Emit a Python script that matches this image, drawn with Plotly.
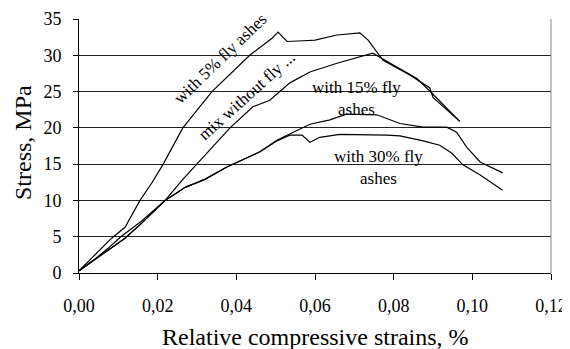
import plotly.graph_objects as go

# with 5% fly ashes
s5_x = [0.0, 0.004, 0.0083, 0.0117, 0.0155, 0.0185, 0.0213, 0.0264, 0.0338, 0.0434, 0.0490, 0.0506,
        0.0529, 0.0570, 0.0600, 0.0656, 0.0714, 0.0735, 0.0758, 0.0773, 0.0841, 0.0892, 0.0900, 0.0968]
s5_y = [0.3, 2.5, 4.8, 6.3, 10.0, 12.4, 14.9, 20.0, 25.0, 30.0, 32.3, 33.2,
        31.9, 32.0, 32.1, 32.8, 33.1, 32.1, 30.3, 29.3, 27.3, 25.5, 24.2, 20.9]

# mix without fly ashes
s0_x = [0.0, 0.004, 0.0074, 0.0104, 0.016, 0.0219, 0.0264, 0.0320, 0.0384, 0.0442, 0.0485, 0.0536,
        0.0587, 0.0656, 0.0707, 0.0747, 0.0808, 0.0859, 0.0897, 0.0968]
s0_y = [0.3, 1.9, 3.4, 4.9, 7.2, 10.0, 12.9, 16.2, 20.0, 22.9, 23.8, 26.2,
        27.7, 28.9, 29.7, 30.3, 28.4, 26.8, 24.8, 20.9]

# with 15% fly ashes
s15_x = [0.0, 0.004, 0.0074, 0.0117, 0.016, 0.0219, 0.027, 0.0320, 0.0376, 0.0435, 0.0460, 0.0503,
         0.0544, 0.0587, 0.0638, 0.0680, 0.0757, 0.0816, 0.0875, 0.0935, 0.0960, 0.0986, 0.1020, 0.1052, 0.1077]
s15_y = [0.3, 1.8, 3.2, 4.8, 6.9, 10.0, 11.8, 12.9, 14.6, 16.0, 16.7, 18.3,
         19.4, 20.5, 21.1, 21.9, 21.8, 20.6, 20.1, 20.1, 19.4, 17.3, 15.3, 14.5, 13.8]

# with 30% fly ashes
s30_x = [0.0, 0.004, 0.0074, 0.0117, 0.016, 0.0219, 0.027, 0.0320, 0.0376, 0.0435, 0.0460, 0.0503,
         0.0536, 0.0567, 0.0587, 0.0612, 0.0663, 0.0783, 0.0816, 0.0875, 0.0917, 0.0948, 0.0976, 0.1020, 0.1077]
s30_y = [0.3, 1.8, 3.2, 4.8, 6.9, 10.0, 11.8, 12.9, 14.6, 16.0, 16.7, 18.2,
         19.0, 19.0, 18.0, 18.7, 19.1, 19.0, 18.9, 18.2, 17.6, 16.5, 14.9, 13.5, 11.4]

x_ticks = [0.0, 0.02, 0.04, 0.06, 0.08, 0.10, 0.12]
x_tick_labels = ["0,00", "0,02", "0,04", "0,06", "0,08", "0,10", "0,12"]
y_ticks = [0, 5, 10, 15, 20, 25, 30, 35]

FONT = "Liberation Serif"

fig = go.Figure()
for xs, ys in [(s5_x, s5_y), (s0_x, s0_y), (s15_x, s15_y), (s30_x, s30_y)]:
    fig.add_trace(go.Scatter(x=xs, y=ys, mode="lines",
                             line=dict(color="black", width=1.2), showlegend=False))

ann_font = dict(family=FONT, size=17, color="black")
common = dict(showarrow=False, xanchor="center", yanchor="middle")
fig.add_annotation(x=0.0360, y=29.5, text="with 5% fly ashes", textangle=-44,
                   font=ann_font, **common)
fig.add_annotation(x=0.0427, y=24.5, text="mix without fly ...", textangle=-42,
                   font=ann_font, **common)
fig.add_annotation(x=0.0706, y=24.0, text="with 15% fly<br>ashes",
                   font=ann_font, **common)
fig.add_annotation(x=0.0762, y=14.5, text="with 30% fly<br>ashes",
                   font=ann_font, **common)

# axis titles
fig.add_annotation(xref="paper", yref="paper", x=-0.1186, y=0.512, text="Stress, MPa",
                   textangle=-90, font=dict(family=FONT, size=24), **common)
fig.add_annotation(xref="paper", yref="paper", x=0.5, y=-0.252,
                   text="Relative compressive strains, %",
                   font=dict(family=FONT, size=24), **common)

# the page body has an 8px margin, so the figure is shrunk by that much
fig.update_layout(
    width=562, height=341,
    margin=dict(l=71, r=19, t=11, b=76),
    paper_bgcolor="white", plot_bgcolor="white",
    font=dict(family=FONT, size=18, color="black"),
    xaxis=dict(range=[0, 0.12], tickvals=x_ticks, ticktext=x_tick_labels,
               showgrid=False, zeroline=False, showline=True, linecolor="black",
               linewidth=1, ticks="outside", ticklen=6, tickcolor="black",
               automargin=False, ticklabelstandoff=10, ticklabeloverflow="allow"),
    yaxis=dict(range=[0, 35], tickvals=y_ticks, showgrid=True, gridcolor="#222",
               gridwidth=1, zeroline=False, showline=True, linecolor="black",
               linewidth=1, ticks="outside", ticklen=5, tickcolor="black",
               automargin=False, ticklabelstandoff=8),
)
# right border of plot area
fig.add_shape(type="line", xref="paper", yref="paper", x0=1, x1=1, y0=0, y1=1,
              line=dict(color="#888", width=1))

fig.write_html("out.html")
